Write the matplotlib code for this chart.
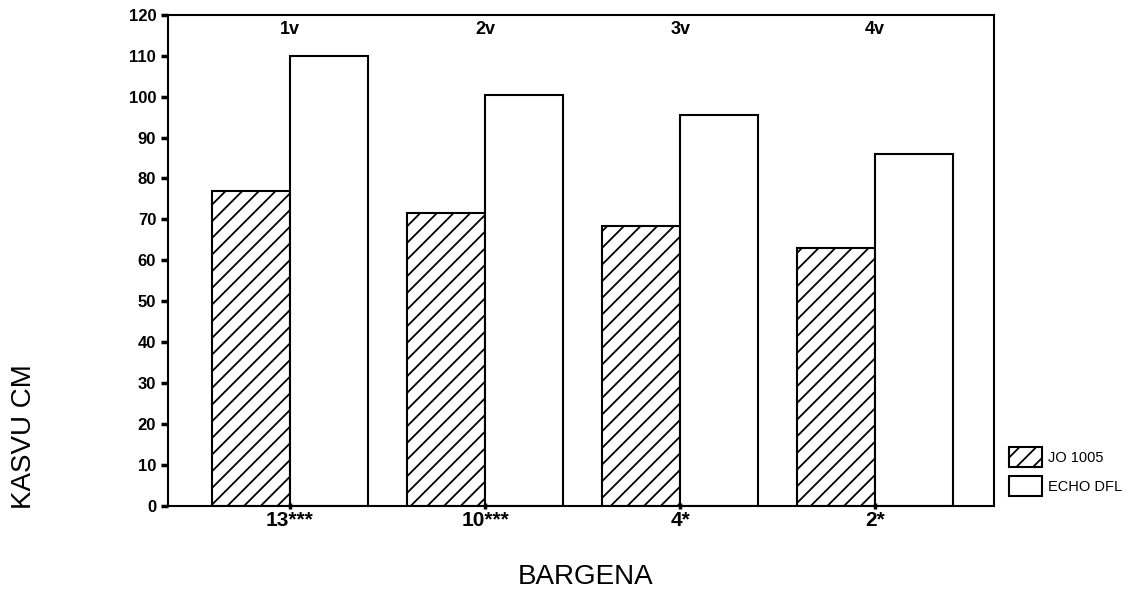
import matplotlib.pyplot as plt
import numpy as np

plt.rcParams['font.family'] = ['Liberation Sans', 'DejaVu Sans']
plt.rcParams['hatch.linewidth'] = 1.3

groups = ['13***', '10***', '4*', '2*']
top_labels = ['1v', '2v', '3v', '4v']
jo1005 = [77, 71.5, 68.5, 63]
echo_dfl = [110, 100.5, 95.5, 86]

x = np.arange(len(groups))
w = 0.4

fig = plt.figure(figsize=(11.35, 5.93), dpi=100)
ax = fig.add_axes([0.148, 0.147, 0.728, 0.828])

ax.bar(x - w / 2, jo1005, w, facecolor='white', edgecolor='black',
       hatch='//', linewidth=1.5, label='JO 1005')
ax.bar(x + w / 2, echo_dfl, w, facecolor='white', edgecolor='black',
       linewidth=1.5, label='ECHO DFL')

ax.set_xlim(-0.625, 3.61)
ax.set_ylim(0, 120)
ax.set_yticks(range(0, 121, 10))
ax.set_xticks(x)
ax.set_xticklabels(groups, fontsize=15, fontweight='bold')
ax.tick_params(axis='y', labelsize=12, width=2.5, length=5, direction='out')
ax.tick_params(axis='x', width=2.5, length=5, direction='inout', pad=1)
for lbl in ax.get_yticklabels():
    lbl.set_fontweight('bold')
for s in ax.spines.values():
    s.set_linewidth(1.5)

for i, t in enumerate(top_labels):
    ax.text(x[i], 116.5, t, ha='center', va='center', fontsize=13,
            fontweight='bold')

fig.text(0.021, 0.263, 'KASVU CM', rotation=90, ha='center', va='center',
         fontsize=20)
fig.text(0.516, 0.027, 'BARGENA', ha='center', va='center', fontsize=20)

ax.legend(loc='lower left', bbox_to_anchor=(1.005, 0.0), frameon=False,
          fontsize=10.5, handlelength=2.3, handleheight=1.7,
          handletextpad=0.4, borderaxespad=0.3, labelspacing=0.6)

plt.savefig('out.png')
